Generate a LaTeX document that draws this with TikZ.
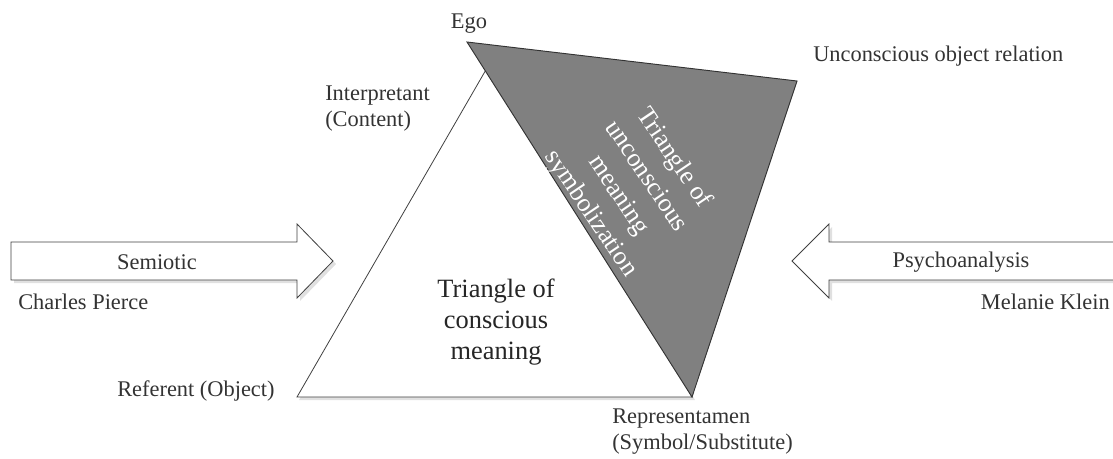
\documentclass[tikz,border=0pt]{standalone}
\usepackage{fontspec}
\setmainfont{Liberation Serif}
\begin{document}
\begin{tikzpicture}[x=0.75pt,y=-0.75pt,
  lbl/.style={inner sep=0pt,font=\fontsize{16.8}{19.5}\selectfont,text=black!80,align=left},
  biglbl/.style={inner sep=0pt,font=\fontsize{19.8}{23.5}\selectfont,text=black!85,align=center},
  rotlbl/.style={inner sep=0pt,font=\fontsize{19.4}{25}\selectfont,text=white,align=center},
  shapeline/.style={draw=black!75,line width=0.6pt,line join=miter},
  shade/.style={fill=black!12,draw=none}]
\useasboundingbox (0,0) rectangle (1113,458);
% coordinates
\coordinate (wl) at (297,397);
\coordinate (wr) at (692,397);
\coordinate (wt) at (494.5,55);
\coordinate (ge) at (467,42);
\coordinate (gr) at (797,81);
% arrows (shadow + shape)
\fill[shade] (14,245)--(300,245)--(300,227)--(336,264)--(300,301)--(300,283)--(14,283)--cycle;
\draw[shapeline,fill=white] (11,242)--(297,242)--(297,224)--(333,261)--(297,298)--(297,280)--(11,280)--cycle;
\fill[shade] (1120,245)--(832,245)--(832,227)--(795,264)--(832,301)--(832,283)--(1120,283)--cycle;
\draw[shapeline,fill=white] (1120,242)--(829,242)--(829,224)--(792,261)--(829,298)--(829,280)--(1120,280);
% white triangle
\fill[shade] (299,400)--(695,400)--(497,58)--cycle;
\draw[shapeline,fill=white] (wl)--(wr)--(wt)--cycle;
% gray triangle
\draw[draw=black!80,line width=0.7pt,fill=black!50,line join=miter] (ge)--(gr)--(wr)--cycle;
% labels
\node[lbl,anchor=center] (ego) at (469,24) {Ego};
\node[lbl,anchor=west] (uor) at (813,56) {Unconscious object relation};
\node[lbl,anchor=north west] (interp) at (325,86) {Interpretant\\(Content)};
\node[lbl,anchor=center] (semio) at (157,262) {Semiotic};
\node[lbl,anchor=west] (cp) at (18,302) {Charles Pierce};
\node[lbl,anchor=center] (psy) at (961,262) {Psychoanalysis};
\node[lbl,anchor=east] (mk) at (1110,302) {Melanie Klein};
\node[lbl,anchor=west] (ref) at (117,391) {Referent (Object)};
\node[lbl,anchor=north west] (rep) at (612,409) {Representamen\\(Symbol/Substitute)};
\node[biglbl] (tcm) at (496,322) {Triangle of\\conscious\\meaning};
\node[rotlbl,rotate=-56] (tum) at (632,186) {Triangle of\\unconscious\\meaning\\symbolization};
\end{tikzpicture}
\end{document}
